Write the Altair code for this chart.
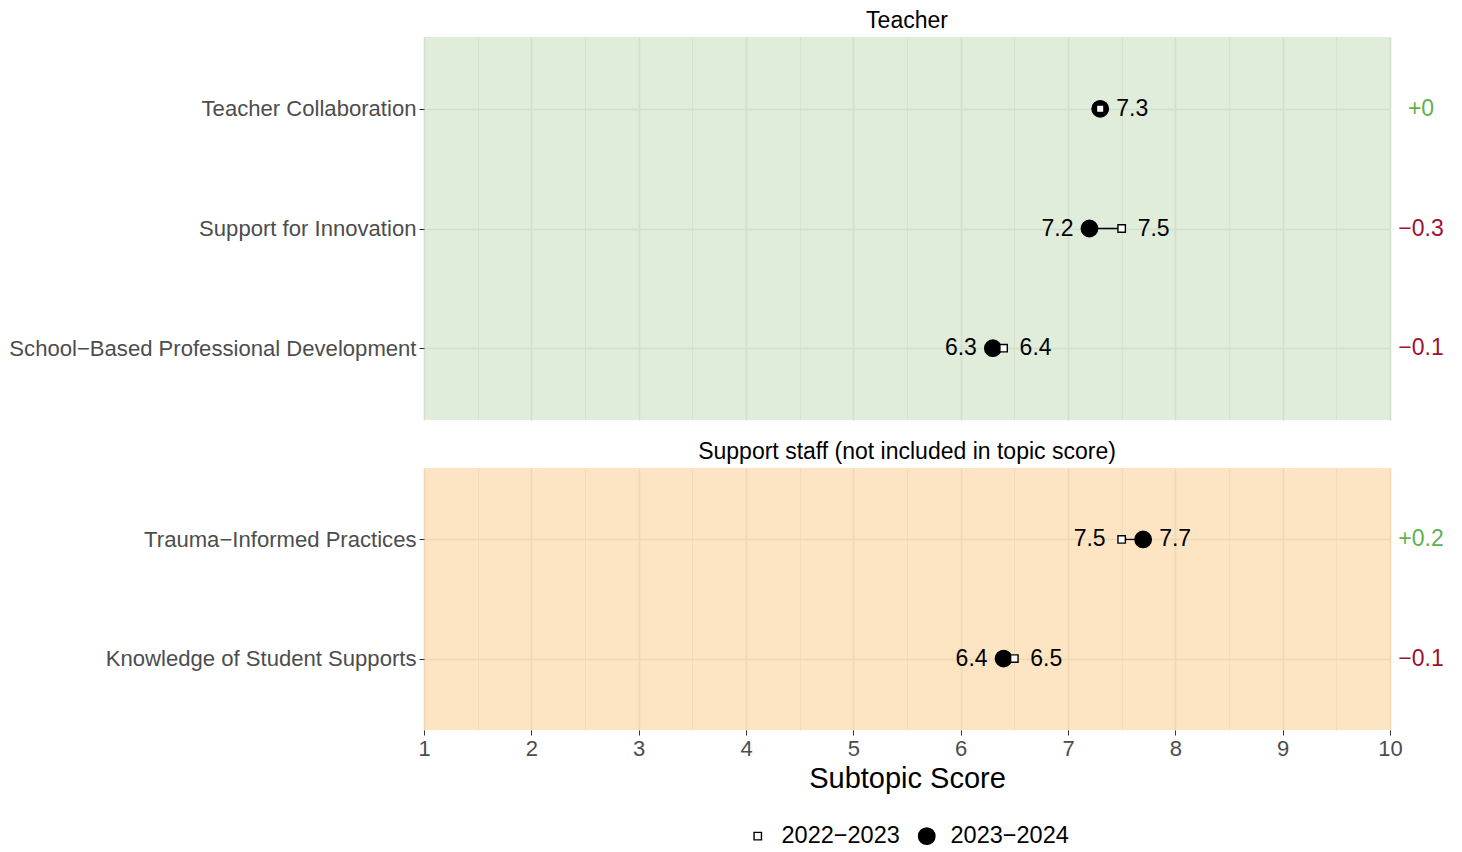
import altair as alt
import pandas as pd

# ---------------- data ----------------
teacher_items = ["Teacher Collaboration", "Support for Innovation",
                 "School\u2212Based Professional Development"]
teacher_prev = [7.3, 7.5, 6.4]
teacher_curr = [7.3, 7.2, 6.3]

staff_items = ["Trauma\u2212Informed Practices", "Knowledge of Student Supports"]
staff_prev = [7.5, 6.5]
staff_curr = [7.7, 6.4]

years = ["2022\u22122023", "2023\u22122024"]
x_grid = [v / 2 for v in range(2, 21)]

FONT = "Liberation Sans"
W = 966
GREEN_TXT = "#5fb14f"
RED_TXT = "#a0102f"


def fmt_change(d):
    d = round(d, 1)
    if d == 0:
        return "+0"
    if d > 0:
        return "+" + f"{d:g}"
    return "\u2212" + f"{abs(d):g}"


def panel(items, prev, curr, title, bg, grid_major, height, show_x):
    pts = []
    for it, p, c in zip(items, prev, curr):
        # current year first so the squares are drawn on top
        pts.append({"item": it, "year": years[1], "value": c, "ord": 0})
        pts.append({"item": it, "year": years[0], "value": p, "ord": 1})
    pts = pd.DataFrame(pts)

    seg = pd.DataFrame({"item": items, "prev": prev, "curr": curr})

    lab = []
    for it, p, c in zip(items, prev, curr):
        lo, hi = min(p, c), max(p, c)
        lab.append({"item": it, "value": hi, "text": f"{hi:.1f}", "side": "R"})
        if lo != hi:
            lab.append({"item": it, "value": lo, "text": f"{lo:.1f}", "side": "L"})
    lab = pd.DataFrame(lab)

    chg = pd.DataFrame({
        "item": items,
        "text": [fmt_change(c - p) for p, c in zip(prev, curr)],
        "sign": ["pos" if round(c - p, 1) >= 0 else "neg" for p, c in zip(prev, curr)],
    })

    x_axis = alt.Axis(
        values=x_grid,
        labelExpr="datum.value % 1 === 0 ? format(datum.value, 'd') : ''",
        labelFlush=False,
        grid=True,
        gridColor=grid_major,
        gridWidth={"condition": {"test": "datum.value % 1 === 0", "value": 1.6}, "value": 0.8},
        tickOpacity={"condition": {"test": "datum.value % 1 === 0", "value": 1}, "value": 0},
        ticks=show_x,
        labels=show_x,
        tickSize=5,
        tickColor="#333333",
        labelColor="#4d4d4d",
        labelFontSize=22,
        labelFont=FONT,
        labelPadding=3,
        domain=False,
        title="Subtopic Score" if show_x else None,
        titleFontSize=29,
        titleFont=FONT,
        titleFontWeight="normal",
        titleColor="black",
        titlePadding=5,
    )
    xs = alt.Scale(domain=[1, 10], nice=False, zero=False)
    ys = alt.Scale(type="point", domain=items, padding=0.6)
    y_axis = alt.Axis(
        title=None, grid=True, gridColor=grid_major, gridWidth=1.6,
        domain=False, tickSize=5, tickColor="#333333", labelColor="#4d4d4d",
        labelFontSize=22.1, labelFont=FONT, labelPadding=3, labelLimit=600,
    )

    base_y = alt.Y("item:N", scale=ys, axis=y_axis, sort=items)

    segment = alt.Chart(seg).mark_rule(color="black", strokeWidth=1.3).encode(
        x=alt.X("prev:Q", scale=xs, axis=x_axis),
        x2="curr:Q",
        y=base_y,
    )

    points = alt.Chart(pts).mark_point(filled=True, strokeWidth=1.4, opacity=1).encode(
        x=alt.X("value:Q", scale=xs),
        y=alt.Y("item:N", scale=ys, sort=items),
        shape=alt.Shape("year:N", scale=alt.Scale(domain=years, range=["square", "circle"]),
                        legend=alt.Legend(title=None)),
        size=alt.Size("year:N", scale=alt.Scale(domain=years, range=[55, 270]),
                      legend=alt.Legend(title=None)),
        fill=alt.Fill("year:N", scale=alt.Scale(domain=years, range=["white", "black"]),
                      legend=alt.Legend(title=None)),
        stroke=alt.Stroke("year:N", scale=alt.Scale(domain=years, range=["black", "black"]),
                          legend=alt.Legend(title=None)),
        order=alt.Order("ord:Q"),
    )

    right_lab = alt.Chart(lab[lab.side == "R"]).mark_text(
        align="left", baseline="middle", dx=16, fontSize=23, font=FONT, color="black"
    ).encode(x=alt.X("value:Q", scale=xs), y=alt.Y("item:N", scale=ys, sort=items), text="text:N")

    left_lab = alt.Chart(lab[lab.side == "L"]).mark_text(
        align="right", baseline="middle", dx=-16, fontSize=23, font=FONT, color="black"
    ).encode(x=alt.X("value:Q", scale=xs), y=alt.Y("item:N", scale=ys, sort=items), text="text:N")

    change = alt.Chart(chg).mark_text(
        align="center", baseline="middle", fontSize=23, font=FONT
    ).encode(
        x=alt.value(W + 31),
        y=alt.Y("item:N", scale=ys, sort=items),
        text="text:N",
        color=alt.Color("sign:N", scale=alt.Scale(domain=["pos", "neg"], range=[GREEN_TXT, RED_TXT]),
                        legend=None),
    )

    return alt.layer(segment, points, right_lab, left_lab, change).properties(
        width=W, height=height,
        title=alt.TitleParams(title, fontSize=23, font=FONT, fontWeight="normal",
                              color="black", anchor="middle", offset=4),
        view=alt.ViewConfig(fill=bg, stroke=None),
    )


top = panel(teacher_items, teacher_prev, teacher_curr, "Teacher",
            "#e0eddb", "#d2dfcd", 383, False)
bottom = panel(staff_items, staff_prev, staff_curr, "Support staff (not included in topic score)",
               "#fde5c3", "#efd8b7", 262, True)

chart = alt.vconcat(top, bottom, spacing=21).properties(
    padding={"left": 0, "top": 2, "right": 5, "bottom": 0}
).configure_legend(
    orient="none", legendX=322, legendY=787, direction="horizontal",
    labelFontSize=23.5, labelFont=FONT, labelColor="black", columnPadding=15,
    symbolStrokeWidth=1.4, labelOffset=12, padding=0,
).configure_view(stroke=None)

chart.save("out.html", embed_options={"renderer": "svg", "actions": False})
